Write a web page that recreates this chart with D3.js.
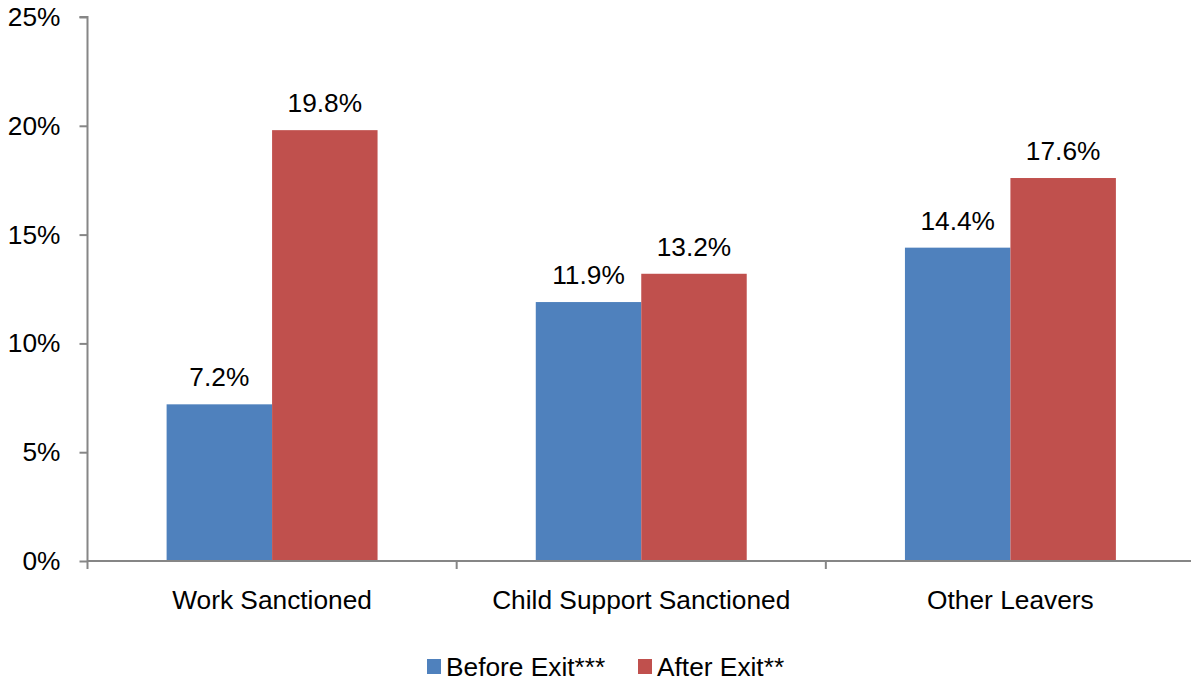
<!DOCTYPE html>
<html><head><meta charset="utf-8">
<script src="https://cdn.jsdelivr.net/npm/d3@7"></script>
<style>body{margin:0;background:#fff}svg{display:block;font-family:"Liberation Sans",Arial,sans-serif}</style>
</head><body><svg id="c" width="1191" height="683"></svg>
<script>
const categories = ["Work Sanctioned", "Child Support Sanctioned", "Other Leavers"];
const seriesNames = ["Before Exit***", "After Exit**"];
const beforeExit = [7.2, 11.9, 14.4];
const afterExit = [19.8, 13.2, 17.6];
const yTicks = [0, 5, 10, 15, 20, 25];
const colors = ["#4F81BD", "#C0504D"];

(function () {
const svg = d3.select("#c");
const mLeft = 87.5, mRight = 1195, mTop = 17, mBottom = 561;
const fs = 26.3;
const x = d3.scaleBand().domain(categories).range([mLeft, mRight]).paddingInner(0).paddingOuter(0);
const y = d3.scaleLinear().domain([0, 25]).range([mBottom, mTop]);
const inner = d3.scaleBand().domain([0, 1]).range([0, x.bandwidth()]).paddingInner(0).paddingOuter(0.75);

const data = categories.map((c, i) => ({cat: c, vals: [beforeExit[i], afterExit[i]]}));

const g = svg.append("g");
data.forEach(d => {
  d.vals.forEach((v, j) => {
    g.append("rect")
      .attr("x", x(d.cat) + inner(j))
      .attr("y", y(v))
      .attr("width", inner.bandwidth())
      .attr("height", y(0) - y(v))
      .attr("fill", colors[j]);
    g.append("text")
      .attr("x", x(d.cat) + inner(j) + inner.bandwidth() / 2)
      .attr("y", y(v) - 18)
      .attr("text-anchor", "middle")
      .attr("font-size", fs)
      .attr("fill", "#000")
      .text(v.toFixed(1) + "%");
  });
});

// Y axis
const yAxis = d3.axisLeft(y).tickValues(yTicks).tickFormat(d => d + "%").tickSize(8).tickPadding(19);
const ya = svg.append("g").attr("transform", `translate(${mLeft},0)`).call(yAxis);
ya.select(".domain").attr("stroke", "#868686").attr("stroke-width", 2).attr("d", `M-8,${mTop}H0V${mBottom}`);
ya.selectAll(".tick line").attr("stroke", "#868686").attr("stroke-width", 2);
ya.selectAll(".tick text").attr("font-size", fs).attr("fill", "#000").attr("font-family", "Liberation Sans, Arial, sans-serif");

// X axis
const xa = svg.append("g").attr("transform", `translate(0,${mBottom})`);
xa.append("line").attr("x1", mLeft).attr("x2", mRight).attr("y1", 0).attr("y2", 0).attr("stroke", "#868686").attr("stroke-width", 2);
const bounds = categories.map(c => x(c)).concat([mRight]);
xa.selectAll("line.tk").data(bounds).enter().append("line").attr("class", "tk")
  .attr("x1", d => d).attr("x2", d => d).attr("y1", 0).attr("y2", 8).attr("stroke", "#868686").attr("stroke-width", 2);
xa.selectAll("text").data(categories).enter().append("text")
  .attr("x", d => x(d) + x.bandwidth() / 2).attr("y", 48)
  .attr("text-anchor", "middle").attr("font-size", fs).attr("fill", "#000").text(d => d);

// Legend
const legendX = [427, 638];
seriesNames.forEach((s, j) => {
  svg.append("rect").attr("x", legendX[j]).attr("y", 659).attr("width", 14).attr("height", 15).attr("fill", colors[j]);
  svg.append("text").attr("x", legendX[j] + 19).attr("y", 676).attr("font-size", fs).attr("fill", "#000").text(s);
});
})();
</script></body></html>
